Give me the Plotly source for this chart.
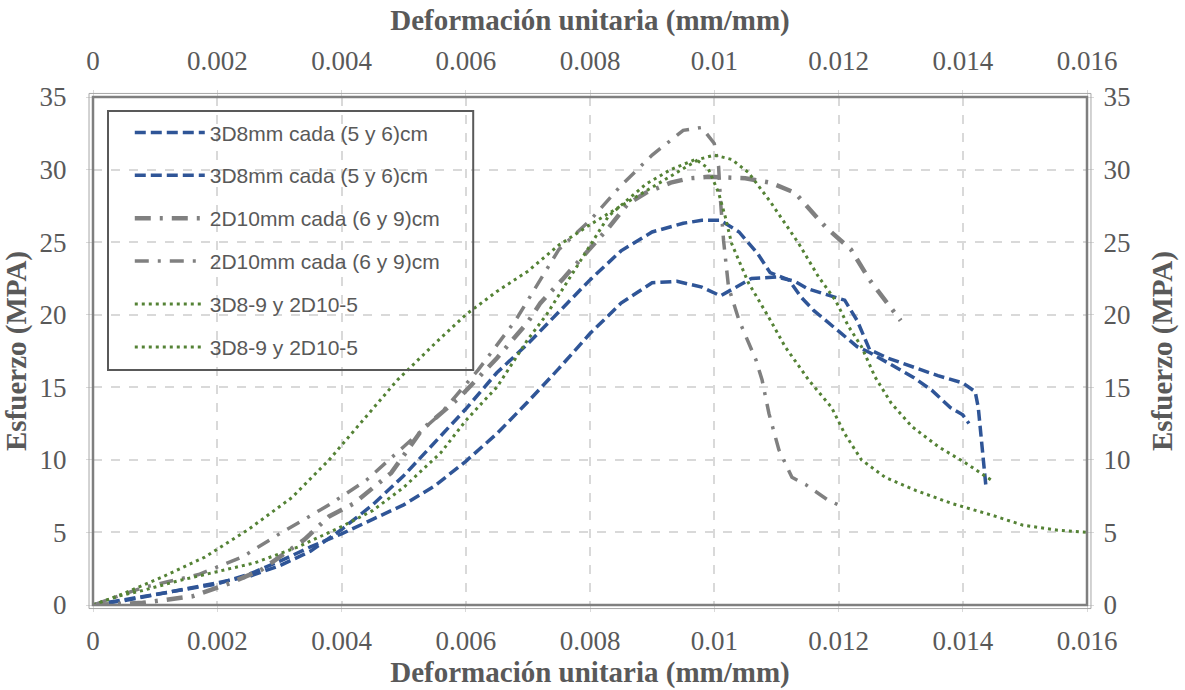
import plotly.graph_objects as go

# --- Series data: strain (mm/mm) vs stress (MPa) ---
labels = [
    "3D8mm cada (5 y 6)cm",
    "3D8mm cada (5 y 6)cm",
    "2D10mm cada (6 y 9)cm",
    "2D10mm cada (6 y 9)cm",
    "3D8-9 y 2D10-5",
    "3D8-9 y 2D10-5",
]

blue_a_x = [0, 0.0005, 0.001, 0.0015, 0.002, 0.0025, 0.003, 0.0035, 0.004, 0.0045, 0.005,
            0.0055, 0.006, 0.0065, 0.007, 0.0075, 0.008, 0.0085, 0.009, 0.0095, 0.0098,
            0.0101, 0.0104, 0.0107, 0.0109, 0.0112, 0.0114, 0.0116, 0.0120, 0.0123, 0.0125,
            0.0128, 0.0132, 0.0135, 0.0138, 0.0140, 0.0141]
blue_a_y = [0, 0.3, 0.7, 1.1, 1.5, 1.95, 2.7, 3.7, 5.2, 6.9, 8.9,
            11.2, 13.5, 16.0, 18.0, 20.2, 22.4, 24.4, 25.7, 26.3, 26.5,
            26.5, 25.7, 24.2, 22.9, 22.4, 21.2, 20.3, 18.9, 17.8, 17.4,
            16.7, 15.7, 14.8, 13.6, 13.1, 12.5]

blue_b_x = [0, 0.0005, 0.001, 0.0015, 0.002, 0.0025, 0.003, 0.0035, 0.004, 0.0045, 0.005,
            0.0055, 0.006, 0.0065, 0.007, 0.0075, 0.008, 0.0085, 0.009, 0.0094, 0.0098,
            0.0101, 0.0103, 0.0106, 0.0110, 0.0113, 0.0115, 0.0118, 0.0121, 0.0123, 0.0125,
            0.0128, 0.0132, 0.0136, 0.0140, 0.0142, 0.01425, 0.0143, 0.01437]
blue_b_y = [0, 0.35, 0.7, 1.05, 1.45, 2.1, 3.0, 4.0, 4.9, 5.9, 6.9,
            8.2, 9.9, 11.8, 14.0, 16.3, 18.7, 20.8, 22.2, 22.3, 21.9,
            21.3, 21.8, 22.5, 22.6, 22.3, 21.8, 21.4, 21.0, 19.6, 17.6,
            17.0, 16.4, 15.8, 15.3, 14.7, 13.6, 11.4, 8.3]

gray_a_x = [0, 0.0008, 0.0016, 0.0022, 0.0027, 0.0034, 0.0038, 0.0042, 0.0048, 0.0053,
            0.0059, 0.0065, 0.0070, 0.0072, 0.00755, 0.0080, 0.0083, 0.0086, 0.0089, 0.0093,
            0.0096, 0.0099, 0.0105, 0.0109, 0.0113, 0.0118, 0.0122, 0.0125, 0.0130]
gray_a_y = [0, 0.15, 0.6, 1.5, 2.4, 4.5, 6.1, 7.0, 9.1, 12.1,
            14.3, 17.0, 19.5, 20.8, 22.4, 24.5, 26.0, 27.6, 28.4, 29.1,
            29.4, 29.5, 29.4, 29.1, 28.4, 26.0, 24.5, 22.4, 19.6]

gray_b_x = [0, 0.0004, 0.0008, 0.0012, 0.0017, 0.0024, 0.0030, 0.0038, 0.0044, 0.0050,
            0.0056, 0.0062, 0.0068, 0.0075, 0.0080, 0.0085, 0.0090, 0.0095, 0.0098, 0.0100,
            0.01007, 0.0101, 0.01015, 0.01023, 0.0104, 0.01067, 0.01077, 0.01088, 0.01104,
            0.01125, 0.01147, 0.01184, 0.01205]
gray_b_y = [0, 0.6, 1.2, 1.6, 2.1, 3.3, 4.9, 6.9, 8.6, 10.9,
            13.2, 16.2, 19.6, 24.5, 26.5, 28.9, 31.0, 32.7, 32.9, 31.8,
            30.2, 27.9, 25.1, 21.9, 19.6, 16.9, 15.5, 13.2, 10.7,
            8.8, 8.3, 7.2, 6.8]

green_a_x = [0, 0.0005, 0.0011, 0.0018, 0.0025, 0.0032, 0.0038, 0.0044, 0.0049, 0.0055,
             0.0060, 0.0065, 0.0070, 0.0075, 0.0080, 0.0085, 0.0090, 0.0095, 0.00975, 0.0100,
             0.01028, 0.01055, 0.0109, 0.01136, 0.01168, 0.01195, 0.01216, 0.01237, 0.01259,
             0.01285, 0.01318, 0.01361, 0.01404, 0.01446]
green_a_y = [0, 0.8, 1.9, 3.3, 5.2, 7.4, 10.0, 13.0, 15.5, 18.0,
             20.0, 21.6, 23.0, 24.8, 26.2, 27.5, 28.8, 30.1, 30.7, 31.0,
             30.7, 29.8, 27.8, 24.9, 22.6, 21.0, 19.2, 17.8, 15.7,
             13.9, 12.3, 10.9, 9.8, 8.6]

green_b_x = [0, 0.0004, 0.0008, 0.0014, 0.0020, 0.0026, 0.0033, 0.0040, 0.0045, 0.0050,
             0.0056, 0.0060, 0.0063, 0.0065, 0.0070, 0.0073, 0.0078, 0.0083, 0.0089, 0.0093,
             0.0097, 0.0099, 0.01007, 0.01018, 0.01028, 0.01055, 0.01088, 0.01114, 0.01152,
             0.01189, 0.0121, 0.01237, 0.01275, 0.01324, 0.01382, 0.01446, 0.01497, 0.01553,
             0.0160]
green_b_y = [0, 0.6, 1.0, 1.7, 2.3, 2.9, 4.0, 5.4, 6.5, 8.1,
             10.5, 12.7, 14.1, 15.0, 18.3, 20.0, 23.4, 26.8, 29.0, 30.0,
             30.7, 30.1, 28.4, 26.7, 24.9, 22.2, 19.8, 17.8, 15.5,
             13.6, 11.8, 10.0, 8.8, 7.9, 7.0, 6.2, 5.5, 5.15,
             5.0]

x_ticks = [0, 0.002, 0.004, 0.006, 0.008, 0.01, 0.012, 0.014, 0.016]
x_tick_text = ["0", "0.002", "0.004", "0.006", "0.008", "0.01", "0.012", "0.014", "0.016"]
y_ticks = [0, 5, 10, 15, 20, 25, 30, 35]

BLUE = "#2F5597"
GRAY = "#808080"
GREEN = "#548235"
TXT = "#595959"
GRID = "#d9d9d9"

styles = [
    dict(color=BLUE, width=3.5, dash="11px,5px"),
    dict(color=BLUE, width=3.5, dash="11px,5px"),
    dict(color=GRAY, width=4.5, dash="16px,9px,3px,9px"),
    dict(color=GRAY, width=3.5, dash="14px,9px,3px,9px"),
    dict(color=GREEN, width=3, dash="3px,4px"),
    dict(color=GREEN, width=3, dash="3px,4px"),
]
series = [
    (blue_a_x, blue_a_y), (blue_b_x, blue_b_y),
    (gray_a_x, gray_a_y), (gray_b_x, gray_b_y),
    (green_a_x, green_a_y), (green_b_x, green_b_y),
]

fig = go.Figure()
for i, ((xs, ys), name, st) in enumerate(zip(series, labels, styles)):
    fig.add_trace(go.Scatter(x=xs, y=ys, mode="lines", name=name, line=st,
                             legendgroup=f"g{i}"))

# invisible trace to carry the secondary (top / right) axes
fig.add_trace(go.Scatter(x=[0, 0.016], y=[0, 35], xaxis="x2", yaxis="y2",
                         mode="lines", line=dict(width=0), showlegend=False,
                         hoverinfo="skip"))

SERIF = "Liberation Serif, Times New Roman, serif"
tick_font = dict(family=SERIF, size=27, color=TXT)
title_font = dict(family=SERIF, size=29, color=TXT)

common_x = dict(range=[0, 0.016], tickvals=x_ticks, ticktext=x_tick_text,
                tickfont=tick_font, ticks="outside", ticklen=6, tickcolor=GRID,
                showline=False, zeroline=False)
common_y = dict(range=[0, 35], tickvals=y_ticks, tickfont=tick_font,
                ticks="outside", ticklen=6, tickcolor=GRID, showline=False,
                zeroline=False)

fig.update_layout(
    width=1185, height=690,
    margin=dict(l=93, r=96, t=97, b=85),
    paper_bgcolor="white", plot_bgcolor="white",
    xaxis=dict(**common_x, showgrid=True, gridcolor=GRID, griddash="dash", gridwidth=1.5,
               title=dict(text="<b>Deformación unitaria (mm/mm)</b>", font=title_font, standoff=0),
               ticklabelstandoff=6),
    xaxis2=dict(**common_x, overlaying="x", side="top", showgrid=False,
                title=dict(text="<b>Deformación unitaria (mm/mm)</b>", font=title_font, standoff=7),
                ticklabelstandoff=9),
    yaxis=dict(**common_y, showgrid=True, gridcolor=GRID, griddash="dash", gridwidth=1.5,
               title=dict(text="<b>Esfuerzo (MPA)</b>", font=title_font, standoff=4),
               ticklabelstandoff=14),
    yaxis2=dict(**common_y, overlaying="y", side="right", showgrid=False,
                title=dict(text="<b>Esfuerzo (MPA)</b>", font=title_font, standoff=22),
                ticklabelstandoff=4),
    legend=dict(x=0.037, y=0.970, xanchor="left", yanchor="top",
                bgcolor="rgba(0,0,0,0)", borderwidth=0,
                font=dict(family="Liberation Sans, Arial, sans-serif", size=21, color=TXT),
                itemwidth=70, tracegroupgap=12.6),
    showlegend=True,
)

# double frame around the plotting area
fig.add_shape(type="rect", xref="paper", yref="paper", x0=0, y0=0, x1=1, y1=1,
              line=dict(color="#7f7f7f", width=2.5), layer="above")
fig.add_shape(type="rect", xref="paper", yref="paper", x0=-0.004, y0=-0.007, x1=1.004, y1=1.007,
              line=dict(color="#a6a6a6", width=1), layer="above")
# legend frame
fig.add_shape(type="rect", xref="paper", yref="paper", x0=0.0151, y0=0.4626, x1=0.3825, y1=0.9724,
              line=dict(color="#595959", width=2), fillcolor="rgba(0,0,0,0)", layer="above")

fig.write_html("out.html")
